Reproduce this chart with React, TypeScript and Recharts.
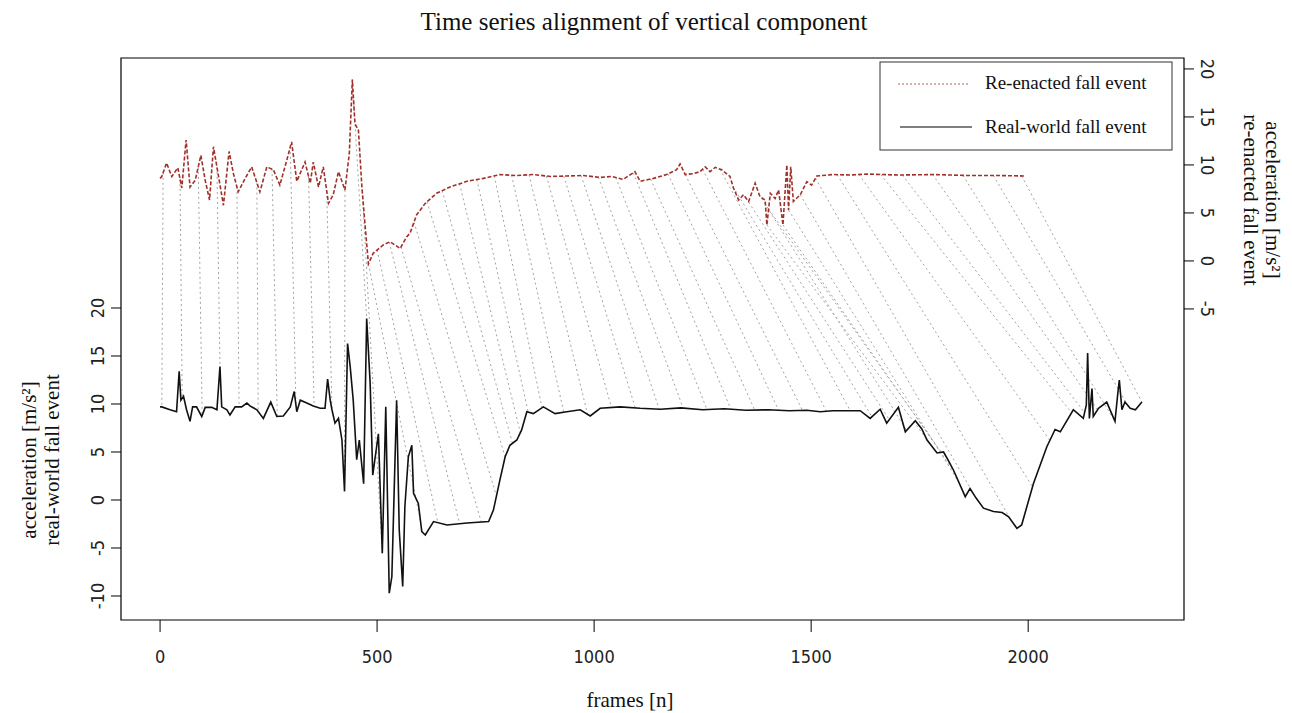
import React from 'react';
import { ComposedChart, Line, XAxis, YAxis, ReferenceLine, ReferenceArea } from 'recharts';

// re-enacted fall event (right axis)
const refFrames = [
  0, 4, 15, 27, 41, 50, 60, 69, 81, 94, 104, 114, 123, 134, 146, 159, 169, 180, 196, 211,
  230, 246, 261, 276, 292, 303, 315, 334, 346, 353, 365, 376, 388, 399, 411, 426, 436, 443, 449, 457,
  465, 472, 480, 491, 515, 530, 553, 568, 576, 591, 611, 637, 668, 707, 745, 783, 820, 860, 900, 937,
  975, 1014, 1040, 1067, 1094, 1106, 1137, 1167, 1190, 1198, 1210, 1229, 1244, 1256, 1267, 1279, 1294, 1313, 1321, 1333,
  1344, 1356, 1371, 1382, 1394, 1398, 1406, 1417, 1425, 1435, 1444, 1448, 1453, 1459, 1475, 1490, 1501, 1513, 1551, 1590,
  1628, 1700, 1782, 1860, 1930, 1990,
];
const refValues = [
  8.6, 8.8, 10.2, 8.8, 9.7, 7.6, 12.6, 7.7, 8.4, 11.0, 8.4, 6.35, 11.9, 9.0, 5.8, 11.4, 9.1, 7.2, 8.6, 9.8,
  7.2, 9.8, 9.5, 7.9, 10.5, 12.4, 8.3, 10.3, 8.1, 10.3, 7.7, 9.8, 6.0, 6.9, 9.3, 7.4, 11.2, 18.9, 14.3, 13.6,
  7.7, 3.9, -0.3, 0.8, 1.7, 2.0, 1.3, 2.5, 2.9, 4.8, 6.0, 7.05, 7.7, 8.3, 8.6, 9.0, 8.9, 9.0, 8.8, 8.85,
  8.9, 8.7, 8.8, 8.5, 9.3, 8.3, 8.6, 9.0, 9.5, 10.1, 9.0, 9.1, 9.3, 9.8, 9.3, 9.75, 9.5, 8.8, 7.6, 6.35,
  6.9, 6.2, 8.1, 6.7, 6.35, 3.75, 7.05, 6.5, 7.4, 3.75, 10.0, 5.3, 9.8, 6.2, 6.9, 8.25, 7.9, 8.85, 9.0, 8.95,
  9.05, 8.95, 9.0, 8.9, 8.9, 8.85,
];

// real-world fall event (left axis)
const realFrames = [
  0, 4, 23, 38, 44, 48, 54, 61, 69, 75, 84, 96, 104, 119, 131, 138, 142, 154, 161, 173,
  188, 200, 207, 223, 238, 255, 269, 284, 300, 309, 315, 323, 338, 353, 369, 380, 386, 392, 396, 403,
  411, 419, 425, 432, 438, 445, 453, 459, 469, 476, 484, 490, 503, 512, 520, 528, 534, 545, 551, 559,
  564, 572, 580, 584, 595, 603, 611, 630, 661, 707, 757, 768, 783, 795, 806, 822, 833, 845, 860, 883,
  910, 937, 968, 991, 1014, 1060, 1106, 1152, 1200, 1250, 1300, 1350, 1400, 1450, 1490, 1521, 1550, 1582, 1613, 1636,
  1659, 1674, 1701, 1717, 1740, 1755, 1767, 1790, 1805, 1815, 1828, 1855, 1866, 1880, 1897, 1920, 1940, 1955, 1974, 1985,
  2012, 2043, 2062, 2074, 2104, 2127, 2134, 2137, 2141, 2147, 2150, 2162, 2181, 2200, 2206, 2210, 2216, 2223, 2235, 2247,
  2262,
];
const realValues = [
  9.7, 9.7, 9.4, 9.2, 13.4, 10.4, 10.8, 9.4, 8.2, 9.7, 9.7, 8.7, 9.65, 9.65, 9.4, 13.9, 9.7, 9.4, 8.85, 9.7,
  9.7, 10.1, 9.8, 9.4, 8.5, 10.2, 8.7, 8.75, 9.7, 11.3, 9.2, 10.4, 10.1, 9.8, 9.55, 9.55, 12.6, 10.4, 9.4, 8.0,
  8.5, 6.25, 0.9, 16.3, 13.9, 10.4, 4.2, 6.25, 1.7, 18.9, 12.2, 2.6, 6.9, -5.55, 9.7, -9.7, -8.0, 10.4, -3.1, -9.0,
  -0.7, 4.5, 5.7, 0.7, -0.35, -3.3, -3.65, -2.25, -2.6, -2.4, -2.25, -1.05, 2.1, 4.5, 5.7, 6.25, 7.3, 9.2, 9.0, 9.7,
  9.0, 9.2, 9.4, 8.75, 9.55, 9.7, 9.55, 9.45, 9.6, 9.4, 9.5, 9.35, 9.4, 9.3, 9.35, 9.2, 9.3, 9.3, 9.3, 8.5,
  9.45, 8.0, 9.65, 7.1, 8.25, 7.4, 6.25, 4.9, 5.0, 4.2, 3.1, 0.35, 1.2, 0.2, -0.85, -1.2, -1.3, -1.75, -2.95, -2.6,
  1.7, 5.55, 7.35, 7.1, 9.4, 8.5, 9.9, 15.3, 8.5, 11.6, 8.7, 9.55, 10.2, 8.2, 10.9, 12.5, 9.4, 10.2, 9.55, 9.4,
  10.2,
];

// warping path: matched frames (re-enacted -> real-world)
const alignRef = [
  7, 46, 88, 131, 177, 223, 258, 300, 342, 384, 426, 443, 466, 480, 500, 528, 555, 585, 615, 650,
  690, 730, 770, 810, 850, 890, 930, 970, 1010, 1050, 1090, 1130, 1170, 1210, 1250, 1290, 1320, 1350, 1380, 1398,
  1402, 1435, 1448, 1475, 1510, 1560, 1610, 1660, 1710, 1780, 1850, 1920, 1985,
];
const alignReal = [
  4, 51, 97, 138, 182, 226, 270, 313, 355, 396, 425, 476, 512, 600, 640, 690, 740, 775, 795, 812,
  830, 848, 880, 930, 985, 1040, 1095, 1150, 1205, 1260, 1315, 1370, 1425, 1480, 1535, 1590, 1640, 1680, 1720, 1790,
  1800, 1830, 1840, 1880, 1960, 2010, 2050, 2100, 2130, 2160, 2200, 2230, 2262,
];

const xTicks = [0, 500, 1000, 1500, 2000];
const leftTicks = [-10, -5, 0, 5, 10, 15, 20];
const rightTicks = [-5, 0, 5, 10, 15, 20];

const OFFSET = 24.9;
const LEFT_DOMAIN: [number, number] = [-12.5, 46.04];

const refData = refFrames.map((f, i) => ({ frame: f, v: refValues[i] }));
const realData = realFrames.map((f, i) => ({ frame: f, v: realValues[i] }));

const valueAt = (frames: number[], values: number[], f: number) => {
  for (let i = 1; i < frames.length; i++) {
    if (f <= frames[i]) {
      const t = (f - frames[i - 1]) / (frames[i] - frames[i - 1]);
      return values[i - 1] + t * (values[i] - values[i - 1]);
    }
  }
  return values[values.length - 1];
};

const serif = '"Liberation Serif", "Times New Roman", serif';
const narrow = '"Liberation Sans Narrow", "DejaVu Sans Condensed", "Liberation Sans", sans-serif';

const XTick = (p: any) => (
  <text x={p.x} y={p.y + 31} textAnchor="middle" fontFamily={narrow} fontSize={18} fill="#222">
    {p.payload.value}
  </text>
);

const LeftTick = (p: any) => (
  <text x={p.x - 7} y={p.y} transform={`rotate(-90, ${p.x - 7}, ${p.y})`} textAnchor="middle"
    fontFamily={narrow} fontSize={18} fill="#222">
    {p.payload.value}
  </text>
);

const RightTick = (p: any) => (
  <text x={p.x + 7} y={p.y} transform={`rotate(90, ${p.x + 7}, ${p.y})`} textAnchor="middle"
    fontFamily={narrow} fontSize={18} fill="#222">
    {p.payload.value}
  </text>
);

const App = () => {
  return (
    <div style={{ position: 'absolute', left: 0, top: 0, width: 1292, height: 713, background: '#fff' }}>
      <ComposedChart width={1292} height={713} margin={{ top: 58, right: 0, bottom: 0, left: 0 }}>
        <XAxis type="number" dataKey="frame" domain={[-90, 2359]} allowDataOverflow ticks={xTicks}
          height={93} tickSize={12} tickMargin={0} axisLine={false} tickLine={{ stroke: '#000' }} tick={<XTick />} />
        <YAxis yAxisId="left" type="number" domain={LEFT_DOMAIN} allowDataOverflow ticks={leftTicks}
          width={121} tickSize={10} tickMargin={0} axisLine={false} tickLine={{ stroke: '#000' }} tick={<LeftTick />} />
        <YAxis yAxisId="right" orientation="right" type="number"
          domain={[LEFT_DOMAIN[0] - OFFSET, LEFT_DOMAIN[1] - OFFSET]} allowDataOverflow ticks={rightTicks}
          width={108} tickSize={10} tickMargin={0} axisLine={false} tickLine={{ stroke: '#000' }} tick={<RightTick />} />

        {alignRef.map((rf, i) => (
          <ReferenceLine key={`al-${i}`} yAxisId="left" ifOverflow="visible"
            stroke="#a3a3a3" strokeDasharray="2 3" strokeWidth={1}
            segment={[
              { x: rf, y: valueAt(refFrames, refValues, rf) + OFFSET },
              { x: alignReal[i], y: valueAt(realFrames, realValues, alignReal[i]) },
            ]} />
        ))}

        <Line data={realData} dataKey="v" yAxisId="left" type="linear" stroke="#111" strokeWidth={1.6}
          dot={false} activeDot={false} isAnimationActive={false} />
        <Line data={refData} dataKey="v" yAxisId="right" type="linear" stroke="#a0302c" strokeWidth={1.6}
          strokeDasharray="4 2" dot={false} activeDot={false} isAnimationActive={false} />

        <ReferenceArea yAxisId="left" x1={-90} x2={2359} y1={LEFT_DOMAIN[0]} y2={LEFT_DOMAIN[1]}
          fill="none" fillOpacity={0} stroke="#000" strokeWidth={1.2} ifOverflow="visible" />
      </ComposedChart>

      <svg width={1292} height={713} style={{ position: 'absolute', left: 0, top: 0, pointerEvents: 'none' }}>
        <text x={644} y={30} textAnchor="middle" fontFamily={serif} fontSize={25} fill="#111">
          Time series alignment of vertical component
        </text>
        <text x={630} y={707} textAnchor="middle" fontFamily={serif} fontSize={21} fill="#111">
          frames [n]
        </text>
        <g fontFamily={serif} fontSize={21} fill="#111" textAnchor="middle">
          <text x={36} y={460} transform="rotate(-90, 36, 460)">acceleration [m/s²]</text>
          <text x={59} y={460} transform="rotate(-90, 59, 460)">real-world fall event</text>
          <text x={1266} y={200} transform="rotate(90, 1266, 200)">acceleration [m/s²]</text>
          <text x={1244} y={200} transform="rotate(90, 1244, 200)">re-enacted fall event</text>
        </g>
        <rect x={880} y={62} width={292} height={88} fill="#fff" stroke="#333" strokeWidth={1} />
        <line x1={898} y1={84} x2={968} y2={84} stroke="#b06060" strokeWidth={1} strokeDasharray="2 2" />
        <line x1={900} y1={127} x2={972} y2={127} stroke="#000" strokeWidth={1.2} />
        <text x={985} y={89} fontFamily={serif} fontSize={19} fill="#111">Re-enacted fall event</text>
        <text x={985} y={133} fontFamily={serif} fontSize={19} fill="#111">Real-world fall event</text>
      </svg>
    </div>
  );
};

export default App;
